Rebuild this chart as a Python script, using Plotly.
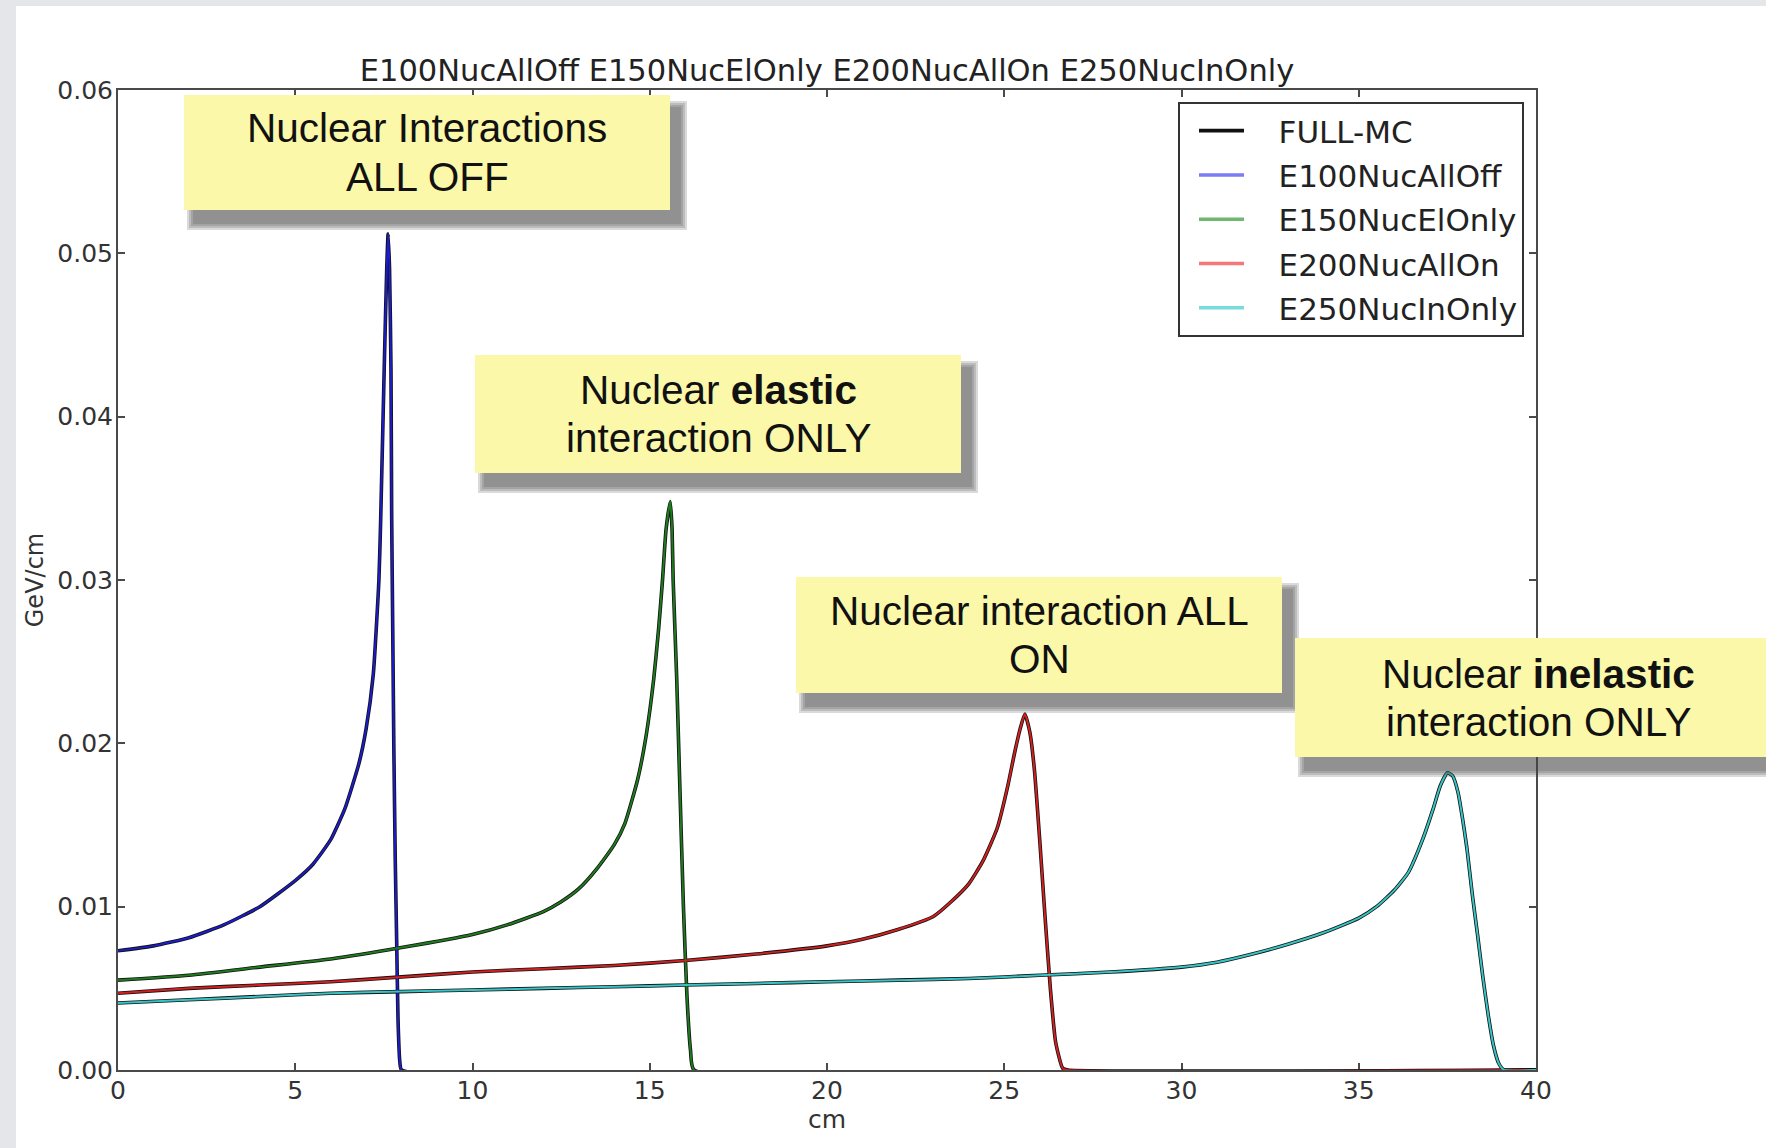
import plotly.graph_objects as go

# ---- energy deposition per run (depth in cm, dE/dx in GeV/cm) ----
depth_e100 = [0, 1, 2, 3, 4, 5, 5.5, 6, 6.4, 6.8, 7.0, 7.2, 7.36, 7.41, 7.51, 7.58, 7.62,
              7.66, 7.70, 7.72, 7.75, 7.78, 7.82, 7.86, 7.90, 7.95, 8.0, 40]
dedx_e100 = [0.0073, 0.0076, 0.0081, 0.0089, 0.0100, 0.0116, 0.0126, 0.0141, 0.0160, 0.0188,
             0.0209, 0.0242, 0.0300, 0.0337, 0.0430, 0.0490, 0.0512,
             0.0490, 0.0430, 0.0340, 0.0270, 0.0200, 0.0130, 0.0080, 0.0030, 0.0005, 0.0, 0.0]

depth_e150 = [0, 2, 4, 6, 8, 10, 11, 12, 12.5, 13, 13.5, 14, 14.3, 14.66, 14.9, 15.11, 15.25,
              15.36, 15.46, 15.58, 15.63, 15.66, 15.76, 15.84, 15.95, 16.05, 16.15, 16.25, 40]
dedx_e150 = [0.0055, 0.0058, 0.0063, 0.0068, 0.0075, 0.0083, 0.0089, 0.0097, 0.0103, 0.0111,
             0.0123, 0.0138, 0.0151, 0.0178, 0.0205, 0.0239, 0.0270,
             0.0300, 0.0331, 0.0348, 0.0331, 0.0300, 0.0240, 0.0180, 0.0100, 0.0045, 0.0012, 0.0, 0.0]

depth_e200 = [0, 2, 4, 6, 8, 10, 12, 14, 16, 18, 20, 21, 22, 23, 23.5, 24, 24.4, 24.8, 25.1,
              25.3, 25.45, 25.58, 25.72, 25.85, 26.0, 26.15, 26.3, 26.45, 26.65, 26.8, 40]
dedx_e200 = [0.0047, 0.0050, 0.0052, 0.0054, 0.0057, 0.0060, 0.0062, 0.0064, 0.0067, 0.0071,
             0.0076, 0.0080, 0.0086, 0.0094, 0.0103, 0.0114, 0.0128, 0.0148, 0.0174,
             0.0195, 0.0209, 0.0218, 0.0207, 0.0184, 0.0141, 0.0094, 0.0050, 0.0017, 0.0001, 0.0, 0.0]

depth_e250 = [0, 2, 4, 6, 8, 10, 12, 14, 16, 18, 20, 22, 24, 26, 28, 30, 31, 32, 33, 34, 35,
              35.5, 36, 36.4, 36.8, 37.1, 37.3, 37.5, 37.65, 37.8, 37.92, 38.05, 38.2, 38.35,
              38.5, 38.65, 38.8, 38.95, 39.1, 40]
dedx_e250 = [0.0041, 0.0043, 0.0045, 0.0047, 0.0048, 0.0049, 0.0050, 0.0051, 0.0052, 0.0053,
             0.0054, 0.0055, 0.0056, 0.0058, 0.0060, 0.0063, 0.0066, 0.0071, 0.0077, 0.0084,
             0.0093, 0.0100, 0.0110, 0.0121, 0.0141, 0.0160, 0.0174, 0.0182, 0.0180, 0.0170,
             0.0155, 0.0136, 0.0108, 0.0083, 0.0057, 0.0034, 0.0015, 0.0004, 0.0, 0.0]

run_names = ["E100NucAllOff", "E150NucElOnly", "E200NucAllOn", "E250NucInOnly"]
run_depths = [depth_e100, depth_e150, depth_e200, depth_e250]
run_dedx = [dedx_e100, dedx_e150, dedx_e200, dedx_e250]
reference_name = "FULL-MC"

x_ticks = [0, 5, 10, 15, 20, 25, 30, 35, 40]
y_ticks = [0.00, 0.01, 0.02, 0.03, 0.04, 0.05, 0.06]

box_texts = [
    ["Nuclear Interactions", "ALL OFF"],
    ["Nuclear <b>elastic</b>", "interaction ONLY"],
    ["Nuclear interaction ALL", "ON"],
    ["Nuclear <b>inelastic</b>", "interaction ONLY"],
]

# ---- styling ----
W, H = 1766, 1148
L, R, T, B = 118, 1536, 90, 1070          # plot area in pixels
line_colors = ["#1c1cc8", "#1f7a1f", "#d02020", "#38c4c4"]
legend_colors = ["#7b7bf5", "#70b870", "#f47878", "#78dcdc"]
mpl_font = "DejaVu Sans"
box_font = "Liberation Sans, Arial, sans-serif"
curve_shape = dict(shape="spline", smoothing=0.5)
legend_gap = "\u00a0\u00a0\u00a0"          # space between swatch and label


def px_x(px):
    return (px - L) / (R - L)


def px_y(py):
    return (B - py) / (B - T)


fig = go.Figure()

# reference Monte Carlo (drawn underneath each run)
for i, (xs, ys) in enumerate(zip(run_depths, run_dedx)):
    fig.add_trace(go.Scatter(
        x=xs, y=ys, mode="lines", name=legend_gap + reference_name,
        line=dict(color="#111111", width=3.6, **curve_shape),
        showlegend=(i == 0), legendgroup="mc", hoverinfo="skip"))

for name, xs, ys, c in zip(run_names, run_depths, run_dedx, line_colors):
    fig.add_trace(go.Scatter(
        x=xs, y=ys, mode="lines", name=name,
        line=dict(color=c, width=2.0, **curve_shape),
        showlegend=False, legendgroup=name))

# legend swatches (semi-transparent colours)
for name, c in zip(run_names, legend_colors):
    fig.add_trace(go.Scatter(
        x=[None], y=[None], mode="lines", name=legend_gap + name,
        line=dict(color=c, width=3.5), legendgroup=name))

shapes = []
# slide border
shapes.append(dict(type="rect", xref="paper", yref="paper", layer="below",
                   x0=px_x(0), x1=px_x(16), y0=px_y(H), y1=px_y(0),
                   fillcolor="#e5e6ea", line=dict(width=0)))
shapes.append(dict(type="rect", xref="paper", yref="paper", layer="below",
                   x0=px_x(0), x1=px_x(W), y0=px_y(6), y1=px_y(0),
                   fillcolor="#e5e6ea", line=dict(width=0)))

# callout boxes: pixel bounds (left, top, right, bottom)
box_bounds = [(184, 95, 670, 210), (475, 355, 961, 473),
              (796, 577, 1282, 693), (1295, 638, 1781, 757)]
for (x0, y0, x1, y1) in box_bounds:
    for g in (7, 5, 3, 1):
        shapes.append(dict(type="rect", xref="paper", yref="paper", layer="above",
                           x0=px_x(x0 + 10 - g), x1=px_x(x1 + 10 + g),
                           y0=px_y(y1 + 13 + g), y1=px_y(y0 + 13 - g),
                           fillcolor="rgba(70,70,70,0.2)", line=dict(width=0)))
    shapes.append(dict(type="rect", xref="paper", yref="paper", layer="above",
                       x0=px_x(x0), x1=px_x(x1), y0=px_y(y1), y1=px_y(y0),
                       fillcolor="#fbf8aa", line=dict(width=0)))

annotations = []
for (x0, y0, x1, y1), lines in zip(box_bounds, box_texts):
    cx = (x0 + x1) / 2
    cy = (y0 + y1) / 2
    for k, txt in enumerate(lines):
        annotations.append(dict(
            xref="paper", yref="paper", x=px_x(cx), y=px_y(cy - 24 + 48 * k),
            text=txt, showarrow=False, xanchor="center", yanchor="middle",
            font=dict(family=box_font, size=40.5, color="#111111")))

axis_common = dict(
    showline=True, linecolor="#4a4a4a", linewidth=2, mirror="ticks",
    ticks="inside", ticklen=7, tickwidth=1.5, tickcolor="#4a4a4a",
    showgrid=False, zeroline=False, layer="below traces",
    tickfont=dict(family=mpl_font, size=25, color="#333333"),
)

fig.update_layout(
    width=W, height=H,
    margin=dict(l=L, r=W - R, t=T, b=H - B, autoexpand=False),
    paper_bgcolor="white", plot_bgcolor="white",
    title=dict(text=" ".join(run_names), x=px_x((L + R) / 2), xref="paper",
               xanchor="center", y=1 - 70 / H, yref="container", yanchor="middle",
               font=dict(family=mpl_font, size=30.5, color="#222222")),
    xaxis=dict(range=[0, 40], tickvals=x_ticks, ticktext=[str(v) for v in x_ticks],
               title=dict(text="cm", standoff=0,
                          font=dict(family=mpl_font, size=25, color="#333333")),
               ticklabelstandoff=-3, **axis_common),
    yaxis=dict(range=[0, 0.06], tickvals=y_ticks, ticktext=[f"{v:.2f}" for v in y_ticks],
               title=dict(text="GeV/cm", standoff=7,
                          font=dict(family=mpl_font, size=24, color="#333333")),
               ticklabelstandoff=-2, **axis_common),
    legend=dict(x=px_x(1178), y=px_y(102), xanchor="left", yanchor="top",
                bgcolor="white", bordercolor="#333333", borderwidth=2,
                font=dict(family=mpl_font, size=31, color="#222222"),
                itemwidth=45, indentation=14, traceorder="grouped", tracegroupgap=1),
    shapes=shapes,
    annotations=annotations,
    showlegend=True,
)

fig.write_html("out.html")
